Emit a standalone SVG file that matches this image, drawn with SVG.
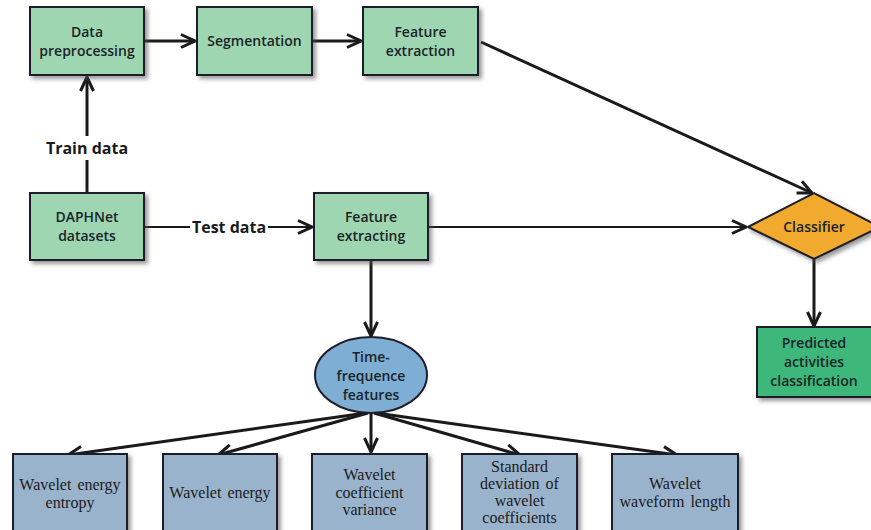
<svg xmlns="http://www.w3.org/2000/svg" width="871" height="530" viewBox="0 0 871 530">
<defs>
<filter id="sh" x="-20%" y="-20%" width="150%" height="150%">
<feDropShadow dx="3" dy="3" stdDeviation="2" flood-color="#555" flood-opacity="0.6"/>
</filter>
<marker id="ah2" viewBox="0 0 16 16" refX="15" refY="8" markerWidth="16" markerHeight="16" markerUnits="userSpaceOnUse" orient="auto">
<path d="M1,1.5 L15,8 L1,14.5" fill="none" stroke="#1a1a1a" stroke-width="3"/>
</marker>
</defs>
<style>
.g{fill:#9fd6b2;stroke:#1e1e2a;stroke-width:2;filter:url(#sh)}
.b{fill:#9ab3cc;stroke:#1e1e2a;stroke-width:2;filter:url(#sh)}
.t{font-family:"Open Sans","Liberation Sans",sans-serif;font-size:14px;fill:#1a2428;text-anchor:middle;font-weight:600}
.s{font-family:"Liberation Serif",serif;font-size:16px;fill:#1a1a1a;text-anchor:middle;word-spacing:2px}
.l{font-family:"Open Sans","Liberation Sans",sans-serif;font-size:16px;font-weight:bold;fill:#1a1a1a;text-anchor:middle}
.c{fill:none;stroke:#1a1a1a;stroke-width:3}
.c2{fill:none;stroke:#1a1a1a;stroke-width:2}
</style>
<g id="connectors">
<line class="c" x1="144" y1="41" x2="195" y2="41" marker-end="url(#ah2)"/>
<line class="c" x1="312" y1="41" x2="361" y2="41" marker-end="url(#ah2)"/>
<line class="c" x1="87" y1="193" x2="87" y2="77" marker-end="url(#ah2)"/>
<line class="c" x1="481" y1="42" x2="812" y2="193" marker-end="url(#ah2)"/>
<line class="c2" x1="144" y1="227" x2="312" y2="227" marker-end="url(#ah2)"/>
<line class="c2" x1="428" y1="227" x2="746" y2="227" marker-end="url(#ah2)"/>
<line class="c" x1="814" y1="259" x2="814" y2="326" marker-end="url(#ah2)"/>
<line class="c" x1="371" y1="260" x2="371" y2="336" marker-end="url(#ah2)"/>
<line class="c" x1="366" y1="413" x2="68" y2="455" marker-end="url(#ah2)"/>
<line class="c" x1="368" y1="413" x2="218" y2="455" marker-end="url(#ah2)"/>
<line class="c" x1="371" y1="413" x2="371" y2="452" marker-end="url(#ah2)"/>
<line class="c" x1="374" y1="413" x2="520" y2="455" marker-end="url(#ah2)"/>
<line class="c" x1="376" y1="413" x2="677" y2="455" marker-end="url(#ah2)"/>
</g>
<g id="train-label">
<rect x="42" y="136" width="90" height="24" fill="#fff"/>
<text class="l" x="87" y="154">Train data</text>
</g>
<g id="test-label">
<rect x="190" y="215" width="78" height="24" fill="#fff"/>
<text class="l" x="229" y="233">Test data</text>
</g>
<g id="data-preprocessing">
<rect class="g" x="30" y="7" width="114" height="68"/>
<text class="t" x="87" y="37">Data</text>
<text class="t" x="87" y="56">preprocessing</text>
</g>
<g id="segmentation">
<rect class="g" x="197" y="7" width="115" height="68"/>
<text class="t" x="254.5" y="46">Segmentation</text>
</g>
<g id="feature-extraction">
<rect class="g" x="363" y="7" width="115" height="68"/>
<text class="t" x="420.5" y="37">Feature</text>
<text class="t" x="420.5" y="56">extraction</text>
</g>
<g id="daphnet">
<rect class="g" x="30" y="193" width="114" height="67"/>
<text class="t" x="87" y="222">DAPHNet</text>
<text class="t" x="87" y="241">datasets</text>
</g>
<g id="feature-extracting">
<rect class="g" x="314" y="193" width="114" height="67"/>
<text class="t" x="371" y="222">Feature</text>
<text class="t" x="371" y="241">extracting</text>
</g>
<g id="classifier">
<polygon points="748,227 814,193 880,227 814,259" fill="#f1a92f" stroke="#1e1e2a" stroke-width="2" filter="url(#sh)"/>
<text class="t" x="814" y="232">Classifier</text>
</g>
<g id="predicted">
<rect x="757" y="327" width="120" height="70" fill="#3db87a" stroke="#1e1e2a" stroke-width="2" filter="url(#sh)"/>
<text class="t" x="814" y="348">Predicted</text>
<text class="t" x="814" y="367">activities</text>
<text class="t" x="814" y="386">classification</text>
</g>
<g id="time-frequence">
<ellipse cx="371" cy="375" rx="56" ry="38" fill="#7eaed3" stroke="#1e1e2a" stroke-width="2"/>
<text class="t" x="371" y="362">Time-</text>
<text class="t" x="371" y="381">frequence</text>
<text class="t" x="371" y="400">features</text>
</g>
<g id="wavelet-energy-entropy">
<rect class="b" x="13" y="454" width="114" height="84"/>
<text class="s" x="70" y="490">Wavelet energy</text>
<text class="s" x="70" y="508">entropy</text>
</g>
<g id="wavelet-energy">
<rect class="b" x="163" y="454" width="114" height="84"/>
<text class="s" x="220" y="498">Wavelet energy</text>
</g>
<g id="wavelet-coefficient-variance">
<rect class="b" x="312" y="454" width="115" height="84"/>
<text class="s" x="369.5" y="480">Wavelet</text>
<text class="s" x="369.5" y="498">coefficient</text>
<text class="s" x="369.5" y="515">variance</text>
</g>
<g id="standard-deviation">
<rect class="b" x="462" y="454" width="115" height="84"/>
<text class="s" x="519.5" y="472">Standard</text>
<text class="s" x="519.5" y="489">deviation of</text>
<text class="s" x="519.5" y="506">wavelet</text>
<text class="s" x="519.5" y="523">coefficients</text>
</g>
<g id="wavelet-waveform-length">
<rect class="b" x="612" y="454" width="126" height="84"/>
<text class="s" x="675" y="489">Wavelet</text>
<text class="s" x="675" y="507">waveform length</text>
</g>
</svg>
